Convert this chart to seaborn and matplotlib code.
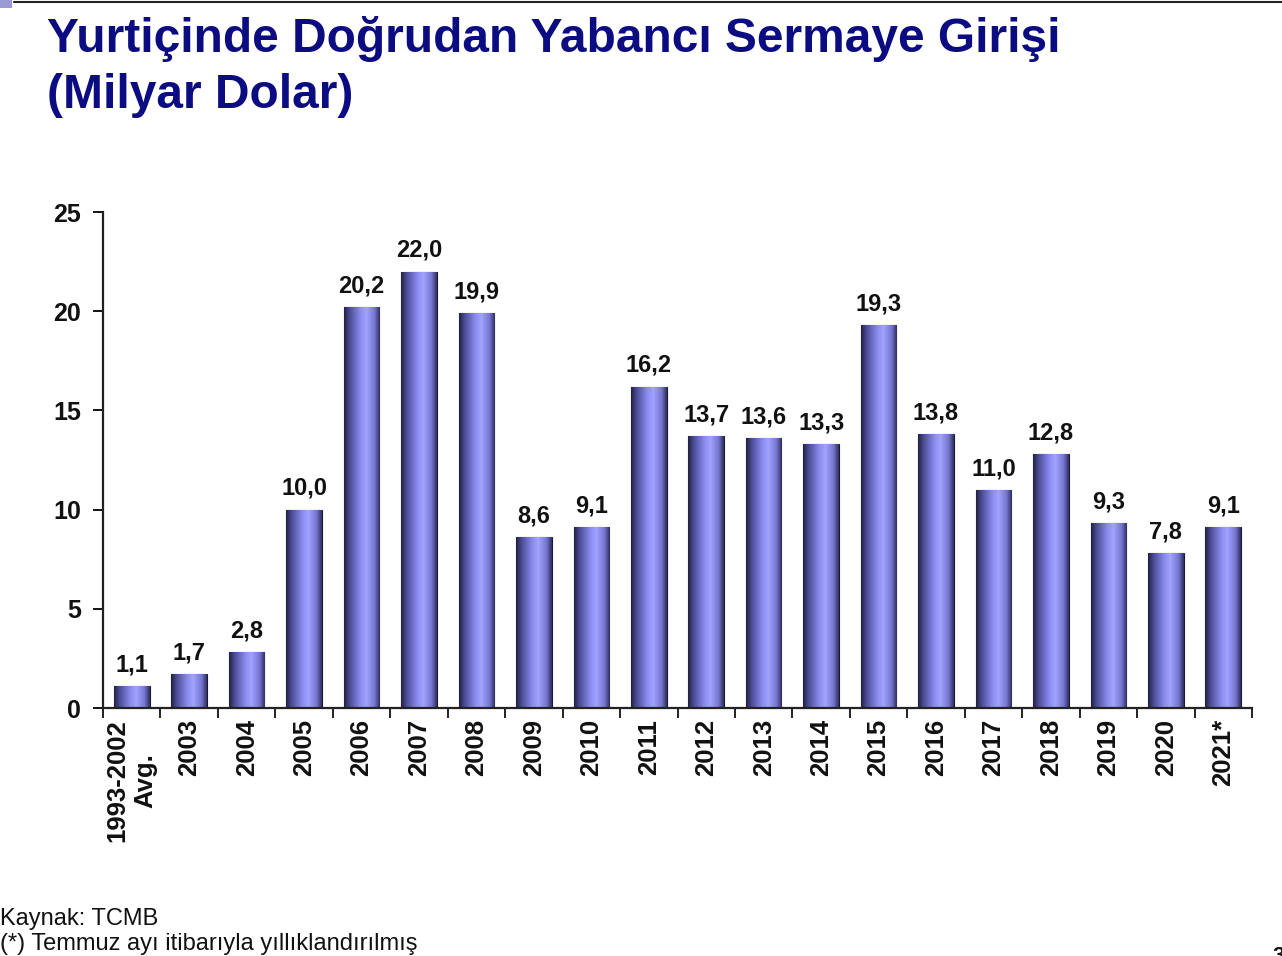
import numpy as np
import pandas as pd
import matplotlib
matplotlib.use("Agg")
import matplotlib.pyplot as plt
import matplotlib.ticker as ticker
from matplotlib.colors import LinearSegmentedColormap
import seaborn as sns

# data
years = ["1993-2002\nAvg.", "2003", "2004", "2005", "2006", "2007", "2008", "2009",
         "2010", "2011", "2012", "2013", "2014", "2015", "2016", "2017", "2018",
         "2019", "2020", "2021*"]
fdi = [1.1, 1.7, 2.8, 10.0, 20.2, 22.0, 19.9, 8.6, 9.1, 16.2, 13.7, 13.6, 13.3,
       19.3, 13.8, 11.0, 12.8, 9.3, 7.8, 9.1]
y_ticks = [0, 5, 10, 15, 20, 25]

title1 = "Yurtiçinde Doğrudan Yabancı Sermaye Girişi"
title2 = "(Milyar Dolar)"
note1 = "Kaynak: TCMB"
note2 = "(*) Temmuz ayı itibarıyla yıllıklandırılmış"

sns.set_style("white")
plt.rcParams["font.family"] = ["Liberation Sans", "DejaVu Sans"]

df = pd.DataFrame({"year": years, "value": fdi})

fig = plt.figure(figsize=(12.82, 9.56), dpi=100, facecolor="white")
ax = fig.add_axes([103 / 1282, 1 - 708 / 956, (1252 - 103) / 1282, (708 - 212) / 956])

sns.barplot(data=df, x="year", y="value", color="#9090f0", width=0.62,
            saturation=1, ax=ax)

# cylinder-ish shading like the original office chart
shade = LinearSegmentedColormap.from_list(
    "cyl", [(0.0, "#20203f"), (0.15, "#4a4a94"), (0.45, "#8a8aee"),
            (0.62, "#a2a2ff"), (0.85, "#7676d2"), (1.0, "#2e2e5e")])
grad = np.linspace(0, 1, 256).reshape(1, -1)
for p in ax.patches:
    x0, y0 = p.get_x(), p.get_y()
    w, h = p.get_width(), p.get_height()
    im = ax.imshow(grad, cmap=shade, aspect="auto", extent=(x0, x0 + w, y0, y0 + h),
                   zorder=p.get_zorder() + 0.1, interpolation="bilinear")
    im.set_clip_path(p)
    p.set_edgecolor("#1a1a30")
    p.set_linewidth(0.8)

ax.bar_label(ax.containers[0], labels=[f"{v:.1f}".replace(".", ",") for v in fdi],
             padding=7, fontsize=17, fontweight="bold", color="#111111")

ax.set_xlim(-0.5, len(years) - 0.5)
ax.set_ylim(0, 25)
ax.set_yticks(y_ticks)
ax.set_xlabel("")
ax.set_ylabel("")

for s in ["top", "right"]:
    ax.spines[s].set_visible(False)
for s in ["left", "bottom"]:
    ax.spines[s].set_color("#222222")
    ax.spines[s].set_linewidth(1.6)

ax.tick_params(axis="y", which="major", direction="out", length=7, width=1.4,
               labelsize=18, pad=9, colors="#111111", left=True)
ax.tick_params(axis="x", which="major", length=0, labelsize=18.5, pad=8,
               colors="#111111", rotation=90)
ax.xaxis.set_minor_locator(ticker.FixedLocator(np.arange(-0.5, len(years), 1.0)))
ax.tick_params(axis="x", which="minor", direction="out", length=7, width=1.4,
               bottom=True, color="#222222")
for lab in ax.get_xticklabels():
    lab.set_fontweight("bold")
    lab.set_multialignment("center")
for lab in ax.get_yticklabels():
    lab.set_fontweight("bold")

# slide decorations
fig.text(47 / 1282, 1 - 52 / 956, title1, fontsize=34.5, fontweight="bold",
         color="#0c0c82", va="baseline", ha="left")
fig.text(47 / 1282, 1 - 108 / 956, title2, fontsize=34.5, fontweight="bold",
         color="#0c0c82", va="baseline", ha="left")
fig.text(0, 1 - 925 / 956, note1, fontsize=17, color="#111111", va="baseline")
fig.text(0, 1 - 950 / 956, note2, fontsize=17, color="#111111", va="baseline")
fig.text(1272 / 1282, 1 - 962 / 956, "3", fontsize=16, fontweight="bold",
         color="#111111", va="baseline")
fig.add_artist(plt.Line2D([14 / 1282, 1], [1 - 1.5 / 956, 1 - 1.5 / 956],
                          color="#222222", linewidth=1.5))
fig.add_artist(plt.Rectangle((0, 1 - 8 / 956), 12 / 1282, 8 / 956,
                             color="#9a9ad6", linewidth=0))

fig.savefig("out.png", dpi=100, facecolor="white")
